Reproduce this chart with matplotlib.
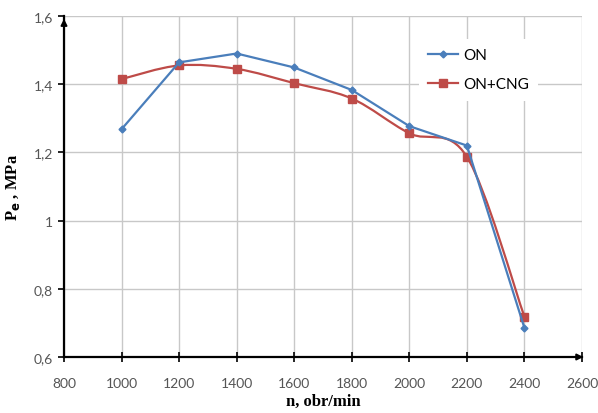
import numpy as np
import matplotlib
matplotlib.use('Agg')
import matplotlib.pyplot as plt
from matplotlib.path import Path
from matplotlib.patches import PathPatch
from matplotlib.ticker import FuncFormatter

rpm = [1000, 1200, 1400, 1600, 1800, 2000, 2200, 2400]
pe_on = [1.268, 1.464, 1.490, 1.449, 1.383, 1.277, 1.220, 0.685]
pe_cng = [1.415, 1.455, 1.445, 1.403, 1.358, 1.256, 1.187, 0.718]

x_ticks = [800, 1000, 1200, 1400, 1600, 1800, 2000, 2200, 2400, 2600]
y_ticks = [0.6, 0.8, 1.0, 1.2, 1.4, 1.6]

blue = '#4a7ebb'
red = '#be4b48'


def smooth_path(x, y):
    # Excel-like smoothed line: cubic Bezier between points
    pts = np.column_stack([x, y]).astype(float)
    n = len(pts)
    verts = [pts[0]]
    codes = [Path.MOVETO]
    for i in range(n - 1):
        p0 = pts[i - 1] if i > 0 else pts[i]
        p1 = pts[i]
        p2 = pts[i + 1]
        p3 = pts[i + 2] if i + 2 < n else pts[i + 1]
        c1 = p1 + (p2 - p0) / 6.0
        c2 = p2 - (p3 - p1) / 6.0
        verts += [c1, c2, p2]
        codes += [Path.CURVE4] * 3
    return Path(verts, codes)


fig = plt.figure(figsize=(5.98, 4.14), dpi=100)
ax = fig.add_axes([64 / 598, 56 / 414, 518 / 598, 341 / 414])

ax.plot(rpm, pe_on, color=blue, lw=1.6, marker='D', ms=3.5, label='ON', zorder=4)
ax.add_patch(PathPatch(smooth_path(rpm, pe_cng), fill=False, edgecolor=red,
                       lw=1.6, zorder=3))
ax.plot(rpm, pe_cng, color=red, lw=0, marker='s', ms=6, zorder=3)
# legend proxy for the smoothed series
ax.plot([], [], color=red, lw=1.6, marker='s', ms=6, label='ON+CNG')

ax.set_xlim(800, 2600)
ax.set_ylim(0.6, 1.6)
ax.set_xticks(x_ticks)
ax.set_yticks(y_ticks)
ax.yaxis.set_major_formatter(FuncFormatter(
    lambda v, p: ('%g' % round(v, 1)).replace('.', ',')))

ax.grid(True, color='#c8c8c8', lw=1.0)
ax.set_axisbelow(True)
for s in ['top', 'right']:
    ax.spines[s].set_visible(False)
for s in ['left', 'bottom']:
    ax.spines[s].set_linewidth(1.6)
    ax.spines[s].set_color('black')
ax.tick_params(axis='x', direction='inout', length=7, width=1.2,
               labelsize=10, labelcolor='#555555', pad=11)
ax.tick_params(axis='y', direction='out', length=4, width=1.2,
               labelsize=10, labelcolor='#555555', pad=4)
for lab in ax.get_xticklabels() + ax.get_yticklabels():
    lab.set_fontfamily('Lato')

# arrow heads at the ends of the axes
ax.annotate('', xy=(1.008, 0), xytext=(0.98, 0), xycoords='axes fraction',
            arrowprops=dict(arrowstyle='-|>', color='black', lw=1.4,
                            mutation_scale=9), annotation_clip=False)
ax.annotate('', xy=(0, 1.0), xytext=(0, 0.97), xycoords='axes fraction',
            arrowprops=dict(arrowstyle='-|>', color='black', lw=1.4,
                            mutation_scale=9), annotation_clip=False)

ax.set_xlabel('n, obr/min', fontfamily='Liberation Serif', fontweight='bold',
              fontsize=12, labelpad=3)
ax.set_ylabel(r'P$_\mathbf{e}$ , MPa', fontfamily='Liberation Serif',
              fontweight='bold', fontsize=12, labelpad=8)

leg = ax.legend(loc='upper left', bbox_to_anchor=(0.67, 0.955), frameon=True,
                fancybox=False, edgecolor='none', framealpha=1,
                prop={'family': 'Lato', 'size': 11}, handlelength=2.0,
                handletextpad=0.3, labelspacing=1.0, borderpad=0.6)

fig.savefig('out.png', dpi=100)
